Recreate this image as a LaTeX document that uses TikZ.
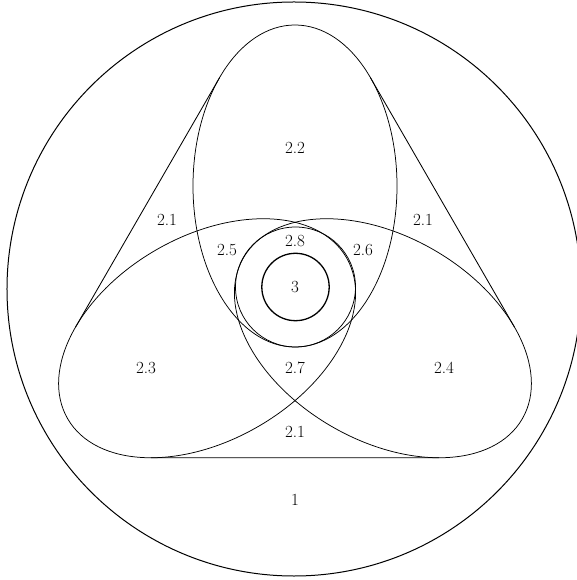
\documentclass[tikz,border=0pt]{standalone}
\begin{document}
\begin{tikzpicture}[x=1pt,y=1pt,
  lbl/.style={font=\fontsize{17}{20}\selectfont, inner sep=0pt},
  ellline/.style={line width=0.75pt},
  tanline/.style={line width=0.85pt},
  outer/.style={line width=1pt},
  core/.style={line width=1.3pt}]
\useasboundingbox (-295,-292.5) rectangle (282,287.5);
\def\ea{102}\def\eb{161}\def\ed{101.5}
% outer circle
\draw[outer] (-1,-1.5) circle [radius=287];
% three ellipses and their common tangents
\foreach \r in {0,120,240}{
  \draw[ellline, rotate=\r] (0,\ed) ellipse [x radius=\ea, y radius=\eb];
  \draw[tanline, rotate=\r] (70.25:223.07) -- (-10.25:223.07);
}
% central circles
\draw[ellline] (0.5,0.5) circle [radius=60];
\draw[core] (0.5,0.5) circle [radius=33.7];
% labels
\node[lbl] (l22) at (0,139.5) {2.2};
\node[lbl] (l21a) at (-128,67.5) {2.1};
\node[lbl] (l21b) at (128,67.5) {2.1};
\node[lbl] (l25) at (-68,37.5) {2.5};
\node[lbl] (l28) at (0,46.5) {2.8};
\node[lbl] (l26) at (68,37.5) {2.6};
\node[lbl] (l3) at (0,0) {3};
\node[lbl] (l23) at (-149,-80.5) {2.3};
\node[lbl] (l27) at (0,-80.5) {2.7};
\node[lbl] (l24) at (149,-80.5) {2.4};
\node[lbl] (l21c) at (0,-144) {2.1};
\node[lbl] (l1) at (0,-212) {1};
\end{tikzpicture}
\end{document}
